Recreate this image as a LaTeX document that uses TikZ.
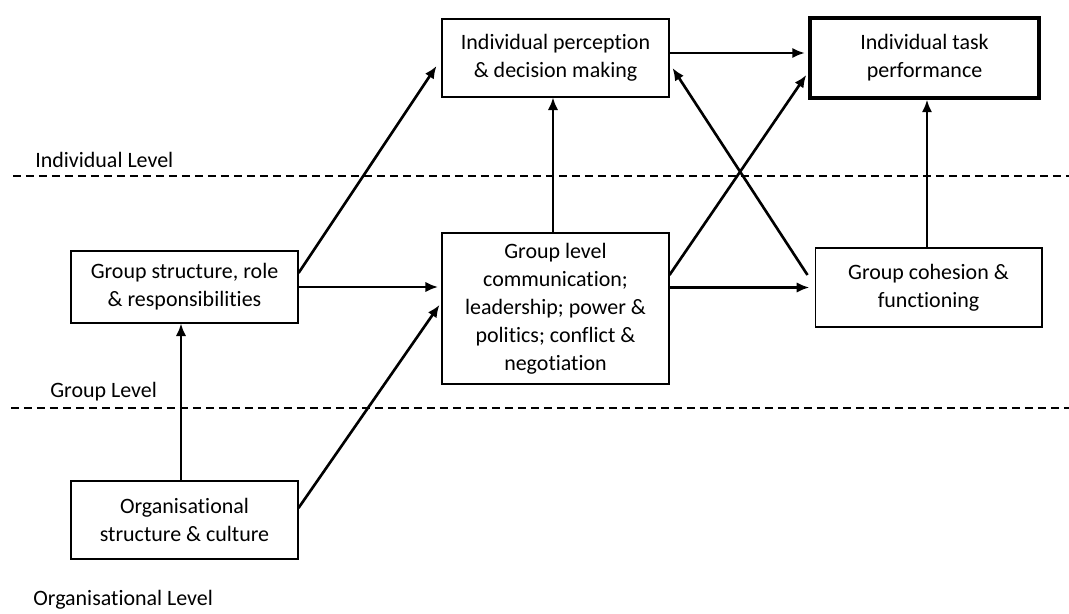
\documentclass[tikz,border=0pt]{standalone}
\usepackage{fontspec}
\setmainfont{Carlito}[Ligatures=NoCommon]
\usepackage{tikz}
\usetikzlibrary{arrows.meta,positioning,calc}

\begin{document}
\begin{tikzpicture}[x=0.02cm, y=-0.02cm, >={Latex[length=2.5mm,width=2.1mm]},
    every node/.style={font=\fontsize{12.5}{16}\selectfont},
    box/.style={draw, line width=0.6pt, align=center, inner sep=2pt, minimum width=4.54cm},
    flow/.style={->, line width=1.5pt},
    level/.style={draw, dashed, line width=0.6pt, dash pattern=on 0.17cm off 0.09cm},
    lvltext/.style={anchor=west, inner sep=0pt}]
  \useasboundingbox (0,0) rectangle (1069,614);

  % boxes
  \node[box, minimum height=1.56cm] (perc) at (555.5,58) {Individual perception\\\& decision making};
  \node[box, line width=2pt, minimum width=4.58cm, minimum height=1.6cm] (task) at (924.5,58) {Individual task\\performance};
  \node[box, minimum height=1.44cm] (grpstr) at (184.5,287) {Group structure, role\\\& responsibilities};
  \node[box, minimum height=3.02cm] (grpcom) at (555.5,308.5) {Group level\\communication;\\leadership; power \&\\politics; conflict \&\\negotiation};
  \node[box, minimum height=1.58cm] (cohes) at (928.5,287.5) {Group cohesion \&\\functioning};
  \node[box, minimum height=1.56cm] (orgstr) at (184.5,520) {Organisational\\structure \& culture};

  % level lines
  \coordinate (indA) at (13,176);
  \coordinate (indB) at (1069,176);
  \coordinate (grpA) at (11,408);
  \coordinate (grpB) at (1069,408);
  \draw[level] (indA) -- (indB);
  \draw[level] (grpA) -- (grpB);
  \node[lvltext] (indlvl) at (35,160) {Individual Level};
  \node[lvltext] (grplvl) at (50,392) {Group Level};
  \node[lvltext] (orglvl) at (33,600) {Organisational Level};

  % arrows
  \draw[flow] ([yshift=0.28cm]grpstr.east) -- ([xshift=-0.1cm,yshift=-0.16cm]perc.west);
  \draw[flow, shorten >=2pt] (grpstr.east) -- (grpstr.east -| grpcom.west);
  \draw[flow, shorten >=2pt] ([yshift=0.24cm]orgstr.east) -- ([yshift=0.13cm]grpcom.west);
  \draw[flow] ([xshift=-0.07cm]orgstr.north) -- ([xshift=-0.07cm]grpstr.south);
  \draw[flow] ([xshift=-0.05cm]grpcom.north) -- ([xshift=-0.05cm]perc.south);
  \draw[flow, shorten >=2pt] ([yshift=0.1cm]perc.east) -- ([yshift=0.1cm]perc.east -| task.west);
  \draw[flow] ([yshift=0.67cm]grpcom.east) -- ([xshift=-0.04cm,yshift=-0.34cm]task.west);
  \draw[flow] ([xshift=-0.14cm,yshift=0.25cm]cohes.west) -- ([xshift=0.06cm,yshift=-0.2cm]perc.east);
  \draw[flow, shorten >=3pt] (grpcom.east |- cohes.west) -- (cohes.west);
  \draw[flow] ([xshift=-0.03cm]cohes.north) -- ([xshift=-0.03cm]cohes.north |- task.south);
\end{tikzpicture}
\end{document}
